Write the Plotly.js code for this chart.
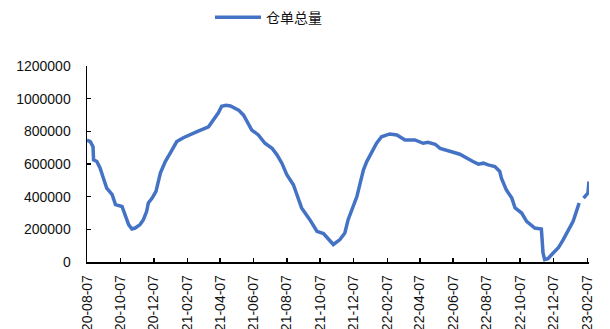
<!DOCTYPE html>
<html>
<head>
<meta charset="utf-8">
<script src="https://cdn.plot.ly/plotly-3.0.1.min.js"></script>
<style>html,body{margin:0;padding:0;background:#fff;}#chart{width:610px;height:329px;}</style>
</head>
<body>
<div id="chart"></div>
<script>
const seriesName = "仓单总量";
const dates = [
  "2020-08-07","2020-08-13","2020-08-18","2020-08-19","2020-08-25","2020-08-31","2020-09-06","2020-09-12",
  "2020-09-22","2020-09-28","2020-10-10","2020-10-16","2020-10-22","2020-10-28","2020-11-03","2020-11-12",
  "2020-11-18","2020-11-24","2020-11-27","2020-12-04","2020-12-11","2020-12-19","2020-12-28","2021-01-06",
  "2021-01-18","2021-01-30","2021-02-12","2021-02-24","2021-03-17","2021-03-26","2021-04-04","2021-04-10",
  "2021-04-18","2021-04-26","2021-05-11","2021-05-20","2021-05-26","2021-06-04","2021-06-16","2021-06-28",
  "2021-07-11","2021-07-20","2021-07-29","2021-08-07","2021-08-19","2021-08-28","2021-09-03","2021-09-18",
  "2021-10-01","2021-10-13","2021-10-31","2021-11-12","2021-11-21","2021-11-27","2021-12-06","2021-12-13",
  "2021-12-19","2021-12-25","2021-12-31","2022-01-09","2022-01-18","2022-01-27","2022-02-11","2022-02-24",
  "2022-03-11","2022-03-29","2022-04-13","2022-04-22","2022-05-05","2022-05-14","2022-05-26","2022-06-07",
  "2022-06-19","2022-07-01","2022-07-13","2022-07-23","2022-08-01","2022-08-10","2022-08-22","2022-08-31",
  "2022-09-03","2022-09-12","2022-09-22","2022-09-28","2022-10-10","2022-10-19","2022-11-03","2022-11-15",
  "2022-11-17","2022-11-18","2022-11-21","2022-11-27","2022-12-04","2022-12-16","2022-12-25","2023-01-03",
  "2023-01-12","2023-01-18","2023-01-23","2023-01-27","2023-01-31","2023-02-08","2023-02-10"
];
const warrants = [
  747000,737000,706000,625000,615000,574000,513000,452000,
  412000,351000,340000,279000,229000,202000,208000,229000,
  259000,310000,361000,391000,432000,544000,615000,666000,
  737000,761000,778000,798000,828000,869000,913000,954000,
  960000,955000,930000,899000,859000,808000,778000,727000,
  696000,656000,605000,534000,473000,391000,331000,259000,
  188000,174000,107000,137000,178000,259000,331000,401000,
  483000,564000,615000,676000,727000,767000,784000,778000,
  747000,747000,727000,733000,721000,696000,686000,672000,
  660000,635000,615000,599000,605000,595000,584000,554000,
  513000,442000,391000,331000,300000,249000,208000,202000,
  137000,56000,15000,20000,46000,87000,137000,188000,
  249000,310000,361000,null,391000,422000,493000
];
const xTicks = ["2020-08-07","2020-10-07","2020-12-07","2021-02-07","2021-04-07","2021-06-07","2021-08-07",
  "2021-10-07","2021-12-07","2022-02-07","2022-04-07","2022-06-07","2022-08-07","2022-10-07","2022-12-07","2023-02-07"];
const yTicks = [0,200000,400000,600000,800000,1000000,1200000];

const trace = {
  x: dates, y: warrants, name: seriesName, type: "scatter", mode: "lines",
  connectgaps: false,
  line: {color: "#4472C4", width: 3.5}
};
const font = {family: "Liberation Sans, Arial, sans-serif", size: 14, color: "#111"};
const layout = {
  width: 610, height: 329,
  margin: {l: 87, r: 21, t: 66, b: 66.5},
  paper_bgcolor: "#fff", plot_bgcolor: "#fff",
  showlegend: true,
  legend: {orientation: "h", x: 210/610, xanchor: "left", xref: "container", y: 0.995, yref: "container", yanchor: "top",
    itemwidth: 46,
    font: {family: "Noto Sans CJK SC, sans-serif", size: 14, color: "#111"}},
  xaxis: {
    type: "date", range: ["2020-08-07", "2023-02-10"],
    tickmode: "array", tickvals: xTicks, ticktext: xTicks,
    tickangle: -90, ticks: "inside", ticklen: 4, tickcolor: "#000", tickwidth: 1.5,
    showline: true, linecolor: "#000", linewidth: 1.5, showgrid: false, zeroline: false,
    tickfont: font, ticklabelstandoff: 6
  },
  yaxis: {
    range: [0, 1200000], tickmode: "array", tickvals: yTicks, ticktext: yTicks.map(String),
    ticks: "inside", ticklen: 4, tickcolor: "#000", tickwidth: 1.5,
    showline: true, linecolor: "#000", linewidth: 1.5, showgrid: false, zeroline: false,
    tickfont: font, ticklabelstandoff: 12
  }
};
Plotly.newPlot("chart", [trace], layout, {displayModeBar: false, staticPlot: true});
</script>
</body>
</html>
